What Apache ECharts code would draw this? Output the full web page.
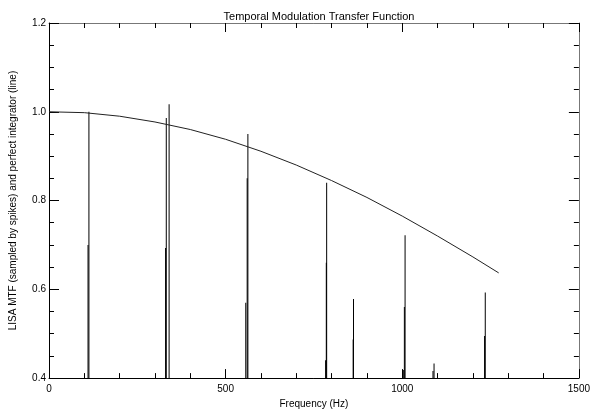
<!DOCTYPE html>
<html>
<head>
<meta charset="utf-8">
<script src="https://cdn.jsdelivr.net/npm/echarts@6/dist/echarts.min.js"></script>
<style>
html,body{margin:0;padding:0;background:#fff;}
#chart{width:593px;height:414px;}
</style>
</head>
<body>
<div id="chart"></div>
<script>
// perfect integrator curve (line)
var curveFreq = [0, 100, 200, 300, 400, 500, 600, 700, 800, 900, 1000, 1100, 1200, 1273];
var curveVal  = [1.000, 0.998, 0.990, 0.977, 0.960, 0.938, 0.911, 0.880, 0.845, 0.807, 0.765, 0.720, 0.673, 0.637];

// sampled MTF spikes (Hz, value)
var spikeFreq = [110.5, 113, 330, 332, 340, 557, 561, 563, 783, 785, 786, 861, 862, 1003, 1006, 1008, 1087, 1090, 1233, 1235];
var spikeVal  = [0.700, 1.000, 0.693, 0.986, 1.017, 0.570, 0.850, 0.950, 0.440, 0.660, 0.840, 0.487, 0.578, 0.418, 0.560, 0.722, 0.416, 0.433, 0.495, 0.593];

var xTicks = [0, 500, 1000, 1500];
var yTicks = [0.4, 0.6, 0.8, 1.0, 1.2];

var font = 'Liberation Sans';

function xAxisDef(pos, labels){
    return {
        type:'value', position:pos, min:xTicks[0], max:xTicks[xTicks.length-1],
        interval:xTicks[1]-xTicks[0],
        name: labels ? 'Frequency (Hz)' : '',
        nameLocation:'middle', nameGap:16,
        nameTextStyle:{fontFamily:font, fontSize:10, color:'#000'},
        axisLine:{show:true, onZero:false, lineStyle:{color: labels ? '#000' : '#777', width:1}},
        axisTick:{show:true, inside:true, length:9, lineStyle:{color:'#000'}},
        minorTick:{show:true, splitNumber:5, length:5, lineStyle:{color:'#000'}},
        axisLabel:{show:labels, margin:6, fontFamily:font, fontSize:10, color:'#000',
            formatter:function(v){return String(v);}},
        splitLine:{show:false}
    };
}
function yAxisDef(pos, labels){
    return {
        type:'value', position:pos, min:yTicks[0], max:yTicks[yTicks.length-1],
        interval:0.2,
        name: labels ? 'LISA MTF (sampled by spikes) and perfect integrator (line)' : '',
        nameLocation:'middle', nameGap:31,
        nameTextStyle:{fontFamily:font, fontSize:10, color:'#000'},
        axisLine:{show:true, onZero:false, lineStyle:{color: labels ? '#000' : '#777', width:1}},
        axisTick:{show:true, inside:true, length:10, lineStyle:{color:'#000'}},
        minorTick:{show:true, splitNumber:4, length:5, lineStyle:{color:'#000'}},
        axisLabel:{show:labels, margin:3, fontFamily:font, fontSize:10, color:'#000',
            formatter:function(v){return v.toFixed(1);}},
        splitLine:{show:false}
    };
}

var curveData = [];
for(var i=0;i<curveFreq.length;i++) curveData.push([curveFreq[i], curveVal[i]]);
var spikeData = [];
for(var k=0;k<spikeFreq.length;k++) spikeData.push([spikeFreq[k], spikeVal[k]]);

var myChart = echarts.init(document.getElementById('chart'));
var option = {
    backgroundColor:'#fff',
    animation:false,
    title:{
        text:'Temporal Modulation Transfer Function',
        left:314, top:6, textAlign:'center',
        textStyle:{fontFamily:font, fontSize:11, fontWeight:'normal', color:'#000'}
    },
    grid:{left:44, right:10, top:23, bottom:24},
    xAxis:[xAxisDef('bottom', true), xAxisDef('top', false)],
    yAxis:[yAxisDef('left', true), yAxisDef('right', false)],
    series:[
        {
            name:'spikes', type:'bar', barWidth:1, clip:true,
            itemStyle:{color:'#000'},
            data:spikeData
        },
        {
            name:'integrator', type:'line', showSymbol:false, smooth:false,
            lineStyle:{color:'#222', width:1},
            data:curveData
        }
    ]
};
myChart.setOption(option);
</script>
</body>
</html>
